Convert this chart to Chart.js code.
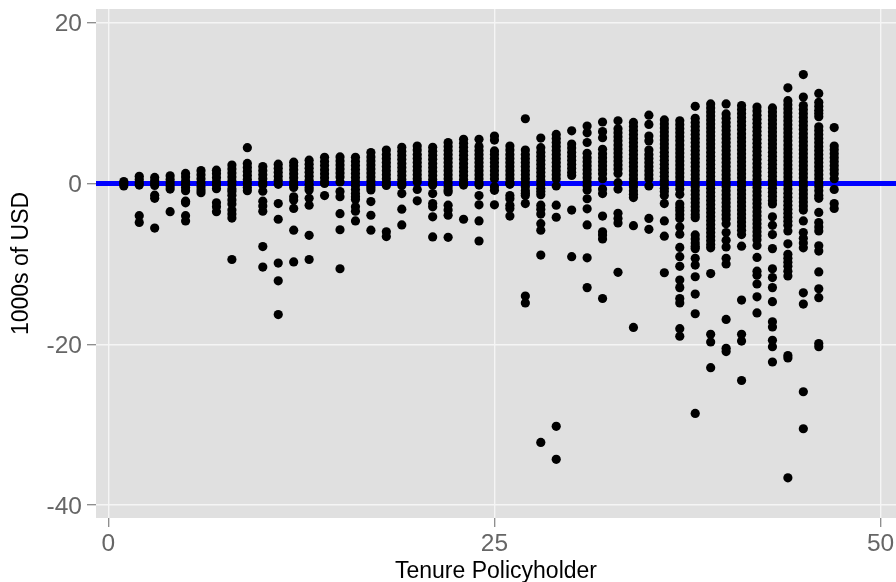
<!DOCTYPE html>
<html><head><meta charset="utf-8">
<style>html,body{margin:0;padding:0;background:#fff}canvas{display:block}</style>
<script src="https://cdn.jsdelivr.net/npm/chart.js@4"></script>
</head><body><canvas id="c" width="896" height="582"></canvas>
<script>
const tickLabelsX=[0,25,50];
const tickLabelsY=[20,0,-20,-40];
const t01=[.25,0,-.3];
const t02=[.9,.5,.1,-.2,-4,-4.85];
const t03=[.75,.35,0,-.25,-1.45,-1.85,-5.55];
const t04=[.95,.5,.1,-.3,-.7,-3.5];
const t05=[1.25,.8,.3,-.1,-.5,-.9,-2.2,-2.4,-4,-4.65];
const t06=[1.6,1.1,.6,.1,-.4,-.8,-1.15];
const t07=[1.65,1.2,.7,.2,-.2,-.65,-2.4,-2.9,-3.5];
const t08=[2.3,1.8,1.3,.8,.3,-.2,-.7,-1,-1.45,-2.05,-2.55,-3.3,-3.8,-4.3,-9.45];
const t09=[4.45,2.5,2,1.5,1,.5,0,-.5,-.9];
const t10=[2.1,1.6,1.1,.6,.1,-.2,-.95,-2.2,-2.8,-3.45,-7.85,-10.4];
const t11=[2.4,1.9,1.4,.9,.4,-.1,-2.5,-4.45,-9.9,-12.1,-16.3];
const t12=[2.65,2.2,1.7,1.2,.7,.2,-.2,-.5,-1.65,-2.05,-3.1,-5.8,-9.75];
const t13=[2.9,2.4,1.9,1.4,.9,.4,-.1,-.5,-.8,-1.85,-2.7,-6.45,-9.45];
const t14=[3.25,2.75,2.25,1.7,1.2,.7,.2,0,-1.5];
const t15=[3.3,2.8,2.3,1.8,1.3,.8,.2,-1,-1.65,-3.75,-5.75,-10.6];
const t16=[3.25,2.75,2.25,1.75,1.25,.75,.25,-.25,-.75,-1.25,-1.65,-2,-2.9,-3.45,-4.65];
const t17=[3.85,3.3,2.8,2.3,1.8,1.3,.8,.3,-.2,-.5,-.8,-2.25,-3.95,-5.8];
const t18=[4.15,3.6,3.1,2.6,2.1,1.6,1.1,.6,.1,-.25,-6,-6.6];
const t19=[4.5,4,3.5,3,2.5,2,1.5,1,.5,0,-.25,-1.25,-3.2,-5.15];
const t20=[4.65,4.15,3.6,3.1,2.6,2.1,1.6,1.1,.6,.2,-.75,-2.15];
const t21=[4.5,4,3.5,3,2.5,2,1.5,1,.5,0,-.2,-1.25,-2.5,-2.9,-4.15,-6.65];
const t22=[5.1,4.6,4.1,3.6,3.1,2.6,2.1,1.6,1.1,.6,.1,-.4,-.8,-1.05,-2.7,-3.3,-3.95,-6.7];
const t23=[5.5,5,4.5,4,3.5,3,2.5,2,1.5,1,.5,0,-.2,-4.45];
const t24=[5.5,4.6,4.1,3.6,3.1,2.6,2.1,1.6,1.1,.6,.1,-.2,-1.5,-2.65,-4.65,-7.15];
const t25=[5.9,5.4,4.05,3.6,3.1,2.6,2.1,1.6,1.1,.6,-.4,-.85,-2.65];
const t26=[4.65,4.15,3.6,3.1,2.6,2.1,1.6,1.1,.6,.1,-.1,-1.5,-1.9,-2.7,-3.1,-4.05];
const t27=[8.05,4.15,3.6,3.1,2.6,2.1,1.6,1.1,.6,.1,-.4,-.9,-1.2,-1.5,-2.5,-14,-14.85];
const t28=[5.65,4.45,3.9,3.4,2.9,2.4,1.9,1.4,.9,.4,-.1,-.6,-1,-1.4,-2.7,-3.2,-3.8,-5,-5.8,-8.9,-32.2];
const t29=[6.1,5.6,5.1,4.6,4.1,3.6,3.1,2.6,2.1,1.6,1.1,.6,-.3,-2.7,-4.2,-30.2,-34.3];
const t30=[6.55,4.9,4.4,3.9,3.4,2.9,2.4,1.9,1.4,1,-3.3,-9.1];
const t31=[7.15,6.3,5.1,3.75,3.2,2.7,2.2,1.7,1.2,.7,.2,-.3,-.8,-1.9,-3.15,-5.15,-9.25,-12.95];
const t32=[7.65,6.45,5.7,4.25,3.7,3.2,2.7,2.2,1.7,1.2,.6,-.7,-1.25,-4.05,-6,-6.4,-6.9,-14.3];
const t33=[7.8,6.8,6.3,5.8,5.3,4.8,4.3,3.8,3.3,2.8,2.3,1.8,1.25,.1,-.7,-3.7,-4.35,-4.9,-11.05];
const t34=[7.6,7.1,6.6,6.1,5.6,5.1,4.6,4.1,3.6,3.1,2.6,2.1,1.6,1.1,.6,.1,-.4,-.9,-1.35,-1.75,-5.25,-17.9];
const t35=[8.5,7.35,5.9,5.3,4.15,3.6,3.1,2.6,2.1,1.6,1.1,.6,-.3,-4.35,-5.7];
const t36=[7.9,7.4,6.9,6.4,5.9,5.4,4.9,4.4,3.9,3.4,2.9,2.4,1.9,1.4,.9,.4,-.1,-.6,-1,-1.5,-2.5,-4.65,-6.55,-11.1];
const t37=[7.8,7.3,6.8,6.3,5.8,5.3,4.8,4.3,3.8,3.3,2.8,2.3,1.8,1.3,.8,.3,-.2,-.7,-1.35,-2.55,-3,-3.4,-3.9,-4.35,-5.4,-6.3,-7.95,-9.1,-10.3,-12,-12.95,-14.3,-14.85,-18.05,-19];
const t38=[9.6,8.1,7.6,7.1,6.6,6.1,5.6,5.1,4.6,4.1,3.6,3.1,2.6,2.1,1.6,1.1,.6,.1,-.4,-.9,-1.4,-1.9,-2.4,-2.9,-3.4,-3.9,-4.25,-6.4,-6.9,-7.4,-7.8,-8.1,-9.3,-10.15,-11.6,-13.75,-16.2,-28.6];
const t39=[9.9,9.4,8.9,8.4,7.9,7.4,6.9,6.4,5.9,5.4,4.9,4.4,3.9,3.4,2.9,2.4,1.9,1.4,.9,.4,-.1,-.6,-1.1,-1.6,-2.1,-2.6,-3.1,-3.6,-4.1,-4.6,-5.1,-5.6,-6.1,-6.6,-7.1,-7.6,-8,-11.2,-18.75,-19.7,-22.9];
const t40=[9.9,8.65,8.1,7.6,7.1,6.6,6.1,5.6,5.1,4.6,4.1,3.6,3.1,2.6,2.1,1.6,1.1,.6,.1,-.4,-.9,-1.4,-1.9,-2.4,-2.9,-3.4,-3.9,-4.4,-5,-6.1,-7.05,-7.9,-9.3,-10,-16.9,-20.5,-20.9];
const t41=[9.7,9.2,8.7,8.2,7.7,7.2,6.7,6.2,5.7,5.2,4.7,4.2,3.7,3.2,2.7,2.2,1.7,1.2,.7,.2,-.3,-.8,-1.3,-1.8,-2.3,-2.8,-3.3,-3.8,-4.3,-4.8,-5.3,-5.8,-6.35,-7.8,-14.5,-18.75,-19.6,-24.5];
const t42=[9.5,9,8.5,8,7.5,7,6.5,6,5.5,5,4.5,4,3.5,3,2.5,2,1.5,1,.5,0,-.5,-1,-1.5,-2,-2.5,-3,-3.5,-4,-4.5,-5,-5.5,-6,-6.5,-7,-7.7,-9.2,-10.9,-11.4,-12.5,-14.1,-16.1];
const t43=[9.4,8.9,8.4,7.9,7.4,6.9,6.4,5.9,5.4,4.9,4.4,3.9,3.4,2.9,2.4,1.9,1.4,.9,.4,-.1,-.6,-1.1,-1.6,-2.1,-2.55,-4.15,-5.2,-6.35,-8.1,-10.6,-11.7,-12.95,-14.7,-17.2,-17.85,-19.5,-20.3,-22.2];
const t44=[11.9,10.3,9.8,9.3,8.8,8.3,7.8,7.3,6.8,6.3,5.8,5.3,4.8,4.3,3.8,3.3,2.8,2.3,1.8,1.3,.8,.3,-.2,-.7,-1.2,-1.7,-2.2,-2.7,-3.2,-3.7,-4.2,-4.7,-5.2,-5.9,-7.5,-8.8,-9.3,-9.8,-10.3,-10.9,-11.5,-21.4,-21.7,-36.6];
const t45=[13.55,10.75,9.7,9.2,8.7,8.2,7.7,7.2,6.7,6.2,5.7,5.2,4.7,4.2,3.7,3.2,2.7,2.2,1.7,1.2,.7,.2,-.3,-.8,-1.3,-1.8,-2.3,-2.8,-3.3,-4.65,-6.1,-6.8,-7.4,-8,-13.6,-15,-25.9,-30.5];
const t46=[11.2,10.1,9.6,9.1,8.7,8.3,7.05,6.6,6.1,5.6,5.1,4.6,4.1,3.6,3.1,2.6,2.1,1.6,1.1,.6,.1,-.4,-.9,-1.45,-1.85,-3.6,-4.85,-5.4,-5.9,-7.75,-8.4,-11,-13.1,-14.2,-19.9,-20.3];
const t47=[6.95,4.65,4.2,3.7,3.2,2.7,2.2,1.7,1.2,.6,-.75,-2.5,-3.1];
const tenureGroups=[t01,t02,t03,t04,t05,t06,t07,t08,t09,t10,t11,t12,t13,t14,t15,t16,t17,t18,t19,t20,t21,t22,t23,t24,t25,t26,t27,t28,t29,t30,t31,t32,t33,t34,t35,t36,t37,t38,t39,t40,t41,t42,t43,t44,t45,t46,t47];
const xMin=-0.8, xMax=51;
const yMin=-41.6, yMax=21.7;
const refLine=[{x:xMin,y:0},{x:xMax,y:0}];
const points=tenureGroups.flatMap((vals,i)=>vals.map(v=>({x:i+1,y:v})));

const panel={id:'panel',beforeDraw(ch){const a=ch.chartArea,g=ch.ctx;g.save();g.fillStyle='#e0e0e0';g.fillRect(a.left,a.top,a.width,a.height);g.restore();}};
const font='"Liberation Sans",Arial,sans-serif';
function nudgeLabels(s,dy){
  const orig=s._computeLabelItems;
  if(s._nudged) return;
  s._nudged=true;
  s._computeLabelItems=function(ca){
    return orig.call(this,ca).map(i=>({...i,options:{...i.options,translation:[i.options.translation[0],i.options.translation[1]+dy]}}));
  };
}
new Chart(document.getElementById('c'),{
  type:'scatter',
  data:{datasets:[
    {data:points,backgroundColor:'#000',pointRadius:4.6,pointBorderWidth:0,pointHoverRadius:4.6,order:1,clip:false},
    {type:'line',data:refLine,borderColor:'#0000ff',borderWidth:5,pointRadius:0,order:2}
  ]},
  options:{
    responsive:false,animation:false,
    layout:{autoPadding:false,padding:{top:9,right:0,left:0,bottom:0}},
    plugins:{legend:{display:false},tooltip:{enabled:false}},
    scales:{
      x:{type:'linear',min:xMin,max:xMax,
        afterBuildTicks(s){s.ticks=tickLabelsX.map(v=>({value:v}));},
        afterFit(s){s.height=64;s.paddingLeft=0;s.paddingRight=0;},
        grid:{color:'#f5f5f5',lineWidth:1.4,tickColor:'#8a8a8a',tickWidth:1.3,tickLength:9},
        border:{display:false},
        ticks:{font:{family:font,size:24.5},color:'#666',padding:3,maxRotation:0,minRotation:0,autoSkip:false,callback:v=>String(v)},
        title:{display:true,text:'Tenure Policyholder',color:'#000',font:{family:font,size:23},padding:{top:0,bottom:-3}}},
      y:{type:'linear',min:yMin,max:yMax,
        afterBuildTicks(s){s.ticks=tickLabelsY.map(v=>({value:v}));},
        afterFit(s){s.width=96;s.paddingTop=0;s.paddingBottom=0;nudgeLabels(s,2);},
        grid:{color:'#f5f5f5',lineWidth:1.4,tickColor:'#8a8a8a',tickWidth:1.3,tickLength:9},
        border:{display:false},
        ticks:{font:{family:font,size:24.5},color:'#666',padding:5,autoSkip:false,callback:v=>String(v)},
        title:{display:true,text:'1000s of USD',color:'#000',font:{family:font,size:23},padding:{top:8,bottom:0}}}
    }
  },
  plugins:[panel]
});
</script></body></html>
